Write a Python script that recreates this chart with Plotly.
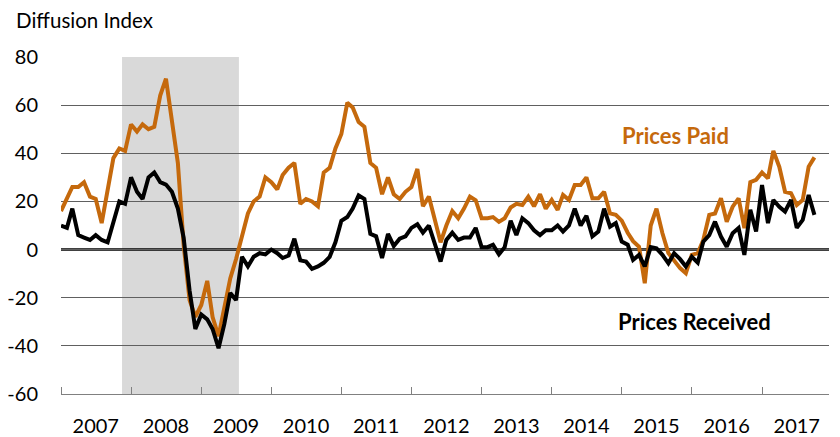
import pandas as pd
import plotly.graph_objects as go

months = pd.date_range("2007-01-01", periods=130, freq="MS")

prices_paid = [
    16, 21, 26, 26, 28, 22, 21, 11, 25, 38, 42, 41,
    52, 49, 52, 50, 51, 64, 71, 52, 36, 2, -21, -28,
    -23, -13, -28, -36, -25, -12, -4, 6, 15, 20, 22, 30,
    28, 25, 31, 34, 36, 19, 21, 20, 18, 32, 34, 42,
    48, 61, 59, 53, 51, 36, 34, 23, 30, 23, 21, 24,
    26, 33.5, 18, 22, 12, 3, 10, 16, 13, 17, 22, 20.5,
    13, 13, 13.5, 11.5, 13, 17.5, 19, 18.5, 22, 18, 23, 17,
    20.6, 16.5, 22.7, 20.6, 26.8, 26.8, 30, 21.3, 21.3, 24, 15, 14.4,
    12, 7, 3.5, 1.2, -14, 10, 17, 6.8, -1.5, -4.3, -7.7, -9.8,
    -2.2, -1.5, 4, 14.4, 15, 21.3, 11.6, 17.8, 21.3, 8.9, 28, 29,
    32, 29.6, 41, 34.4, 24, 23.4, 18.5, 20.6, 34.4, 38.3,
]

prices_received = [
    10, 9, 17, 6, 5, 4, 6, 4, 3, 12, 20, 19,
    30, 24, 21, 30, 32, 28, 27, 24, 17, 5, -17, -33,
    -27, -29, -33, -41, -31, -18, -21, -3, -7, -3, -1.5, -2,
    0, -1.5, -3.5, -2.5, 4.5, -4.5, -5, -8, -7, -5.5, -3, 3,
    12, 13.5, 17, 22.5, 21, 6.5, 5.5, -3.5, 6.5, 1.5, 4.5, 5.5,
    9, 10.5, 7, 10, 3, -5, 4, 7, 4, 5, 5, 9,
    1, 1, 2, -2, 1, 12, 6, 13, 11, 8, 6, 8,
    8, 10, 7.5, 10, 17, 10, 14, 5.5, 7.5, 17, 9.5, 11,
    3.3, 2, -4.3, -2.2, -7, 1, 0.5, -2.2, -5.7, -1.5, -4, -7,
    -3, -5.4, 3.3, 6, 11.6, 5.4, 1.2, 6.8, 9, -2.2, 16.5, 7.5,
    26.8, 11, 20.6, 17.8, 15.8, 20.6, 9, 12.3, 22.7, 14.4,
]

years = list(range(2007, 2018))
year_starts = [f"{y}-01-01" for y in years] + ["2018-01-01"]
year_mids = [f"{y}-07-01" for y in years]
y_ticks = [80, 60, 40, 20, 0, -20, -40, -60]
y_ticktext = ["80", "60", "40", "20", "0", "-20", "-40", "-60"]
recession = ("2007-11-15", "2009-07-16")

ORANGE = "#C5690C"
FONT = "Lato"

fig = go.Figure()

fig.add_shape(type="rect", xref="x", yref="paper", x0=recession[0], x1=recession[1],
              y0=0, y1=1, fillcolor="#D9D9D9", line_width=0, layer="between")
fig.add_shape(type="line", xref="paper", yref="y", x0=0, x1=1, y0=0, y1=0,
              line=dict(color="#000000", width=2.5), layer="between")

fig.add_trace(go.Scatter(x=months, y=prices_paid, mode="lines", name="Prices Paid",
                         line=dict(color=ORANGE, width=4)))
fig.add_trace(go.Scatter(x=months, y=prices_received, mode="lines", name="Prices Received",
                         line=dict(color="#000000", width=4)))

# page body has an 8px margin: compensate so the plot area lands at x 61-829, y 57-394
fig.update_layout(
    width=832, height=429,
    margin=dict(l=53, r=11, t=49, b=43, autoexpand=False),
    paper_bgcolor="white", plot_bgcolor="white",
    showlegend=False,
    font=dict(family=FONT, size=20, color="#000000"),
    xaxis=dict(
        type="date", automargin=False,
        range=["2007-01-01", "2017-12-16"],
        tickmode="array", tickvals=year_mids, ticktext=[str(y) for y in years],
        ticks="", showgrid=False, zeroline=False,
        showline=True, linecolor="#808080", linewidth=1,
        ticklabelstandoff=14,
        tickfont=dict(family=FONT, size=20, color="#000000"),
        minor=dict(tickmode="array", tickvals=year_starts, ticks="inside",
                   ticklen=7, tickcolor="#808080", tickwidth=1, showgrid=False),
    ),
    yaxis=dict(
        range=[-60, 80], automargin=False,
        tickmode="array", tickvals=y_ticks, ticktext=y_ticktext,
        showgrid=True, gridcolor="#606060", gridwidth=1,
        zeroline=False, ticks="",
        ticklabelstandoff=22,
        tickfont=dict(family=FONT, size=20, color="#000000"),
    ),
    annotations=[
        dict(text="Diffusion Index", xref="paper", yref="paper", x=-0.0612,
             y=(394 - 20.5) / 337, xanchor="left", yanchor="middle", showarrow=False,
             font=dict(family=FONT, size=20.5, color="#000000")),
        dict(text="<b>Prices Paid</b>", xref="paper", yref="paper", x=(675 - 61) / 768,
             y=(394 - 135) / 337, xanchor="center", yanchor="middle", showarrow=False,
             font=dict(family=FONT, size=22, color=ORANGE)),
        dict(text="<b>Prices Received</b>", xref="paper", yref="paper", x=(694 - 61) / 768,
             y=(394 - 321) / 337, xanchor="center", yanchor="middle", showarrow=False,
             font=dict(family=FONT, size=22, color="#000000")),
    ],
)

fig.write_html("out.html")
